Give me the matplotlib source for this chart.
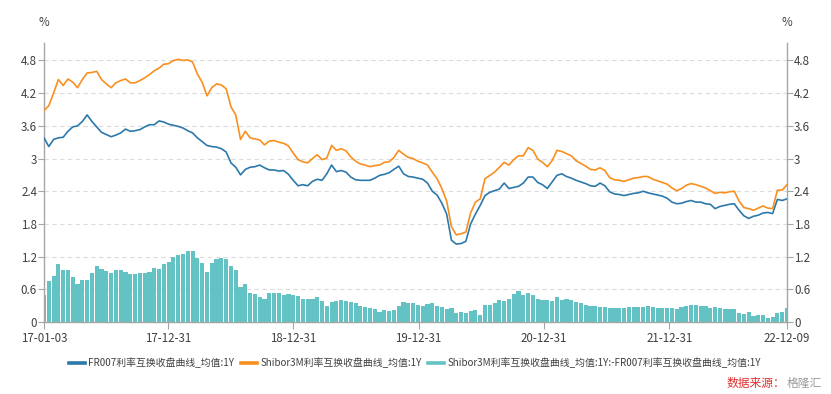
import matplotlib
matplotlib.use('Agg')
import pandas as pd
from matplotlib import pyplot as plt
from matplotlib.lines import Line2D

plt.rcParams['font.family'] = ['Noto Sans CJK SC', 'DejaVu Sans']

start_date = '2017-01-03'
end_date = '2022-12-09'

# 利率（%），约两周一个点
shibor3m = [3.88, 3.97, 4.20, 4.45, 4.34, 4.46, 4.40, 4.30, 4.45, 4.57,
            4.58, 4.60, 4.45, 4.37, 4.30, 4.39, 4.43, 4.46, 4.39, 4.39,
            4.43, 4.48, 4.54, 4.61, 4.66, 4.73, 4.74, 4.80, 4.82, 4.80,
            4.81, 4.77, 4.55, 4.40, 4.15, 4.30, 4.37, 4.35, 4.28, 3.95,
            3.80, 3.35, 3.50, 3.38, 3.36, 3.34, 3.25, 3.32, 3.33, 3.30,
            3.28, 3.23, 3.10, 2.98, 2.94, 2.92, 3.00, 3.07, 2.98, 3.01,
            3.24, 3.15, 3.18, 3.14, 3.03, 2.95, 2.90, 2.88, 2.85, 2.87,
            2.88, 2.93, 2.94, 3.02, 3.15, 3.08, 3.02, 3.00, 2.95, 2.92,
            2.88, 2.75, 2.63, 2.45, 2.22, 1.75, 1.60, 1.62, 1.65, 2.00,
            2.20, 2.26, 2.63, 2.69, 2.75, 2.84, 2.93, 2.88, 2.98, 3.05,
            3.05, 3.20, 3.15, 2.99, 2.93, 2.85, 2.96, 3.15, 3.13, 3.09,
            3.05, 2.96, 2.91, 2.86, 2.80, 2.79, 2.83, 2.78, 2.65, 2.61,
            2.60, 2.58, 2.61, 2.64, 2.65, 2.67, 2.67, 2.62, 2.59, 2.56,
            2.53, 2.46, 2.41, 2.45, 2.51, 2.54, 2.52, 2.49, 2.46, 2.41,
            2.36, 2.38, 2.37, 2.39, 2.40, 2.22, 2.10, 2.08, 2.05, 2.09,
            2.13, 2.09, 2.08, 2.42, 2.42, 2.52]

fr007 = [3.38, 3.22, 3.35, 3.38, 3.39, 3.50, 3.58, 3.60, 3.68, 3.80,
         3.68, 3.58, 3.48, 3.44, 3.40, 3.43, 3.47, 3.54, 3.50, 3.51,
         3.53, 3.58, 3.62, 3.62, 3.69, 3.67, 3.63, 3.61, 3.59, 3.56,
         3.51, 3.47, 3.38, 3.31, 3.24, 3.22, 3.21, 3.18, 3.12, 2.92,
         2.84, 2.70, 2.80, 2.84, 2.85, 2.88, 2.83, 2.79, 2.79, 2.77,
         2.78, 2.71, 2.60, 2.50, 2.52, 2.50, 2.58, 2.62, 2.60, 2.72,
         2.88, 2.76, 2.78, 2.75, 2.66, 2.61, 2.60, 2.60, 2.60, 2.64,
         2.69, 2.71, 2.74, 2.80, 2.86, 2.72, 2.67, 2.66, 2.64, 2.62,
         2.55, 2.40, 2.33, 2.18, 1.98, 1.50, 1.43, 1.44, 1.48, 1.80,
         1.98, 2.14, 2.32, 2.38, 2.41, 2.44, 2.55, 2.45, 2.47, 2.49,
         2.55, 2.66, 2.66, 2.56, 2.52, 2.45, 2.57, 2.69, 2.72, 2.67,
         2.64, 2.60, 2.57, 2.54, 2.50, 2.49, 2.55, 2.50, 2.39, 2.35,
         2.34, 2.32, 2.34, 2.36, 2.37, 2.40, 2.37, 2.35, 2.33, 2.31,
         2.27, 2.20, 2.17, 2.18, 2.21, 2.23, 2.20, 2.20, 2.17, 2.16,
         2.08, 2.12, 2.14, 2.16, 2.17, 2.05, 1.95, 1.90, 1.94, 1.96,
         2.00, 2.01, 1.99, 2.25, 2.23, 2.26]

tick_dates = ['2017-01-03', '2017-12-31', '2018-12-31', '2019-12-31',
              '2020-12-31', '2021-12-31', '2022-12-09']
tick_labels = ['17-01-03', '17-12-31', '18-12-31', '19-12-31',
               '20-12-31', '21-12-31', '22-12-09']
y_ticks = [0, 0.6, 1.2, 1.8, 2.4, 3.0, 3.6, 4.2, 4.8]
y_labels = ['0', '0.6', '1.2', '1.8', '2.4', '3', '3.6', '4.2', '4.8']

names = ['FR007利率互换收盘曲线_均值:1Y',
         'Shibor3M利率互换收盘曲线_均值:1Y',
         'Shibor3M利率互换收盘曲线_均值:1Y:-FR007利率互换收盘曲线_均值:1Y']

c_blue = '#2c79aa'
c_orange = '#f88f1f'
c_teal = '#63c3c4'
c_axis = '#a6a6a6'
c_text = '#404040'

dates = pd.date_range(start_date, end_date, periods=len(fr007))
df = pd.DataFrame({'fr007': fr007, 'shibor3m': shibor3m}, index=dates)
df['spread'] = df['shibor3m'] - df['fr007']
step = (dates[1] - dates[0]).days

fig = plt.figure(figsize=(8.31, 3.94), dpi=100)
ax = fig.add_axes([44 / 831, 1 - 322 / 394, (787 - 44) / 831, (322 - 43) / 394])

ax.bar(df.index, df['spread'], width=step * 0.93, color=c_teal, linewidth=0, zorder=2)
ax.plot(df.index, df['fr007'], color=c_blue, linewidth=1.2, zorder=3)
ax.plot(df.index, df['shibor3m'], color=c_orange, linewidth=1.2, zorder=3)

ax.set_xlim(pd.Timestamp(start_date), pd.Timestamp(end_date))
ax.set_ylim(0, 5.12)
ax.set_yticks(y_ticks, y_labels)
ax.set_xticks(pd.to_datetime(tick_dates), tick_labels)

for y in y_ticks[1:]:
    ax.axhline(y, color='#dcdcdc', linewidth=0.8, linestyle=(0, (4, 3)), zorder=1)

for side in ['left', 'right', 'bottom']:
    ax.spines[side].set_color(c_axis)
    ax.spines[side].set_linewidth(1.0)
ax.spines['top'].set_visible(False)

ax.tick_params(axis='y', left=True, right=True, labelleft=True, labelright=True,
               length=4, width=0.8, color=c_axis, labelcolor=c_text, labelsize=8.3, pad=1)
ax.tick_params(axis='x', length=5, width=0.8, color=c_axis, labelcolor=c_text,
               labelsize=8.3, pad=2)

ax.text(0, 1.05, '%', transform=ax.transAxes, ha='center', va='bottom',
        fontsize=8.3, color=c_text)
ax.text(1, 1.05, '%', transform=ax.transAxes, ha='center', va='bottom',
        fontsize=8.3, color=c_text)

handles = [Line2D([], [], color=c_blue, linewidth=2.6),
           Line2D([], [], color=c_orange, linewidth=2.6),
           Line2D([], [], color=c_teal, linewidth=2.6)]
fig.legend(handles, names, loc='center', bbox_to_anchor=(415 / 831, 1 - 363 / 394),
           ncol=3, frameon=False, fontsize=7.1, handlelength=1.6, handletextpad=0.35,
           columnspacing=0.7, labelcolor=c_text)

fig.text(727 / 831, 1 - 383 / 394, '数据来源：', color='#e03030', fontsize=8.5,
         ha='left', va='center')
fig.text(822 / 831, 1 - 383 / 394, '格隆汇', color='#9a9a9a', fontsize=8.5,
         ha='right', va='center')

fig.savefig('out.png', dpi=100)
plt.close(fig)
